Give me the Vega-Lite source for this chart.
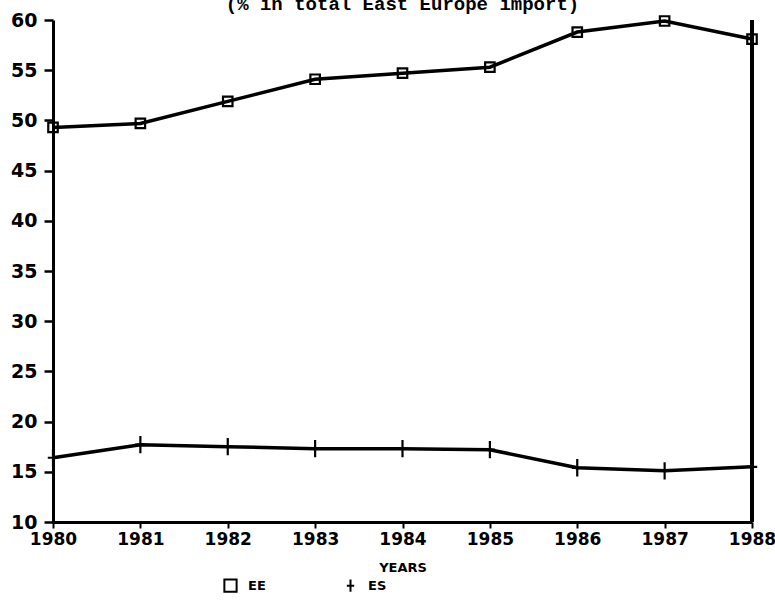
{
  "$schema": "https://vega.github.io/schema/vega-lite/v6.json",
  "width": 699,
  "height": 502,
  "autosize": "none",
  "padding": {"top": 20, "left": 53, "right": 23, "bottom": 81},
  "background": "white",
  "title": {
    "text": "(% in total East Europe import)",
    "font": "Liberation Mono",
    "fontWeight": "bold",
    "fontSize": 19,
    "color": "black",
    "anchor": "middle",
    "baseline": "alphabetic",
    "offset": 0,
    "dy": 18
  },
  "config": {
    "view": {"stroke": null},
    "axis": {"grid": false, "domainColor": "black", "tickColor": "black", "labelColor": "black", "titleColor": "black"}
  },
  "data": {
    "values": [
      {"year": 1980, "series": "EE", "value": 49.3},
      {"year": 1981, "series": "EE", "value": 49.7},
      {"year": 1982, "series": "EE", "value": 51.9},
      {"year": 1983, "series": "EE", "value": 54.1},
      {"year": 1984, "series": "EE", "value": 54.7},
      {"year": 1985, "series": "EE", "value": 55.3},
      {"year": 1986, "series": "EE", "value": 58.8},
      {"year": 1987, "series": "EE", "value": 59.9},
      {"year": 1988, "series": "EE", "value": 58.1},
      {"year": 1980, "series": "ES", "value": 16.4},
      {"year": 1981, "series": "ES", "value": 17.7},
      {"year": 1982, "series": "ES", "value": 17.5},
      {"year": 1983, "series": "ES", "value": 17.3},
      {"year": 1984, "series": "ES", "value": 17.3},
      {"year": 1985, "series": "ES", "value": 17.2},
      {"year": 1986, "series": "ES", "value": 15.4},
      {"year": 1987, "series": "ES", "value": 15.1},
      {"year": 1988, "series": "ES", "value": 15.5}
    ]
  },
  "encoding": {
    "x": {
      "field": "year",
      "type": "quantitative",
      "scale": {"domain": [1980, 1988], "nice": false, "zero": false},
      "axis": {
        "values": [1980, 1981, 1982, 1983, 1984, 1985, 1986, 1987, 1988],
        "format": "d",
        "title": "YEARS",
        "titleFont": "DejaVu Sans",
        "titleFontWeight": "bold",
        "titleFontSize": 13,
        "titlePadding": 14,
        "labelFont": "DejaVu Sans",
        "labelFontWeight": "bold",
        "labelFontSize": 17,
        "labelPadding": 3,
        "labelFlush": false,
        "tickSize": 6,
        "tickWidth": 2,
        "domainWidth": 3
      }
    },
    "y": {
      "field": "value",
      "type": "quantitative",
      "scale": {"domain": [10, 60], "nice": false, "zero": false},
      "axis": {
        "values": [10, 15, 20, 25, 30, 35, 40, 45, 50, 55, 60],
        "title": null,
        "labelFont": "DejaVu Sans",
        "labelFontWeight": "bold",
        "labelFontSize": 19,
        "labelPadding": 7,
        "tickSize": 9,
        "tickWidth": 2.5,
        "domainWidth": 3
      }
    }
  },
  "layer": [
    {
      "mark": {"type": "rule", "color": "black", "strokeWidth": 3},
      "encoding": {
        "x": {"datum": 1988},
        "y": {"datum": 10},
        "y2": {"datum": 60}
      }
    },
    {
      "mark": {"type": "line", "color": "black", "strokeWidth": 3.5},
      "encoding": {
        "detail": {"field": "series"}
      }
    },
    {
      "transform": [{"filter": "datum.series === 'EE'"}],
      "mark": {"type": "point", "filled": false, "color": "black", "strokeWidth": 2.2, "opacity": 1, "size": 90},
      "encoding": {
        "shape": {
          "field": "series",
          "type": "nominal",
          "scale": {"domain": ["EE", "ES"], "range": ["square", "M-0.6,0H0.6M0,-1V1"]},
          "legend": {
            "title": null,
            "orient": "none",
            "direction": "horizontal",
            "legendX": 170,
            "legendY": 558,
            "symbolSize": 150,
            "symbolStrokeWidth": 2,
            "symbolStrokeColor": "black",
            "symbolFillColor": "white",
            "labelFont": "DejaVu Sans",
            "labelFontWeight": "bold",
            "labelFontSize": 13,
            "labelColor": "black",
            "labelOffset": 10,
            "columnPadding": 76
          }
        }
      }
    },
    {
      "transform": [{"filter": "datum.series === 'ES'"}],
      "mark": {"type": "point", "filled": false, "color": "black", "strokeWidth": 2.2, "opacity": 1, "size": 300},
      "encoding": {
        "shape": {
          "field": "series",
          "type": "nominal"
        }
      }
    }
  ]
}
